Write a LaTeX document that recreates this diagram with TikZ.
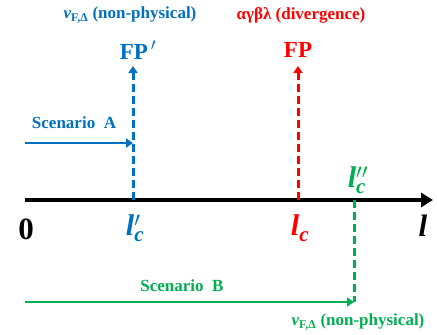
\documentclass[tikz,border=0pt]{standalone}
\usepackage{amsmath}
\usepackage{fontspec}
\setmainfont{Liberation Serif}
\usetikzlibrary{arrows.meta}
\definecolor{cblue}{HTML}{0070C0}
\definecolor{cred}{HTML}{FF0000}
\definecolor{cgreen}{HTML}{00B050}
\newcommand{\lsym}[1]{{\bfseries\itshape l}$^{#1}_{\text{\bfseries\itshape c}}$}
\newcommand{\vfd}{{\itshape v}\textsubscript{\bfseries F,Δ}}
\tikzset{
  lbl/.style={font=\fontsize{17}{19}\selectfont\bfseries, inner sep=0pt},
  fplbl/.style={font=\fontsize{23}{25}\selectfont\bfseries, inner sep=0pt},
  axlbl/.style={font=\fontsize{31}{33}\selectfont\bfseries\itshape, inner sep=0pt},
  dashup/.style={line width=3pt, dash pattern=on 8pt off 4pt, -{Triangle[length=7pt,width=9pt]}},
  scen/.style={line width=2.8pt, -{Triangle[length=7pt,width=9pt]}},
}
\begin{document}
\begin{tikzpicture}[x=1pt,y=-1pt]
\useasboundingbox (0,0) rectangle (437,335);
% axis
\coordinate (o) at (25,200);
\coordinate (e) at (433,200);
\draw[line width=4pt, -{Triangle[length=12pt,width=14pt]}] (o) -- (e);
\node[font=\fontsize{31}{33}\selectfont\bfseries, inner sep=0pt] (zero) at (26,229) {0};
\node[axlbl] (lab) at (423,226) {l};
% Scenario A (blue)
\coordinate (bA) at (133,200);
\node[fplbl, text=cblue] (fpp) at (138,50) {FP$^{\,\prime}$};
\draw[dashup, cblue] (bA) -- (133,66);
\node[lbl, text=cblue] (vtop) at (130,15) {\vfd\ (non-physical)};
\coordinate (sa0) at (25,143);
\coordinate (sa1) at (133,143);
\draw[scen, cblue] (sa0) -- (sa1);
\node[lbl, text=cblue] (scA) at (74,123) {Scenario\ \ A};
\node[axlbl, text=cblue, font=\fontsize{30}{32}\selectfont] (lcp) at (135,228) {\lsym{\prime}};
% red
\coordinate (rA) at (298,200);
\node[fplbl, text=cred] (fp) at (298,50) {FP};
\draw[dashup, cred] (rA) -- (298,66);
\node[lbl, text=cred] (rtop) at (301,15) {αγβλ (divergence)};
\node[axlbl, text=cred, font=\fontsize{30}{32}\selectfont] (lc) at (300,228) {\lsym{}};
% green
\coordinate (gA) at (354,200);
\coordinate (gB) at (354,302);
\draw[line width=3pt, dash pattern=on 8pt off 4pt, cgreen] (gA) -- (gB);
\node[axlbl, text=cgreen, font=\fontsize{30}{32}\selectfont] (lcpp) at (358,180) {\lsym{\prime\prime}};
\coordinate (sb0) at (25,302);
\draw[scen, cgreen] (sb0) -- (gB);
\node[lbl, text=cgreen] (scB) at (182,286) {Scenario\ \ B};
\node[lbl, text=cgreen] (vbot) at (358,322) {\vfd\ (non-physical)};
\end{tikzpicture}
\end{document}
